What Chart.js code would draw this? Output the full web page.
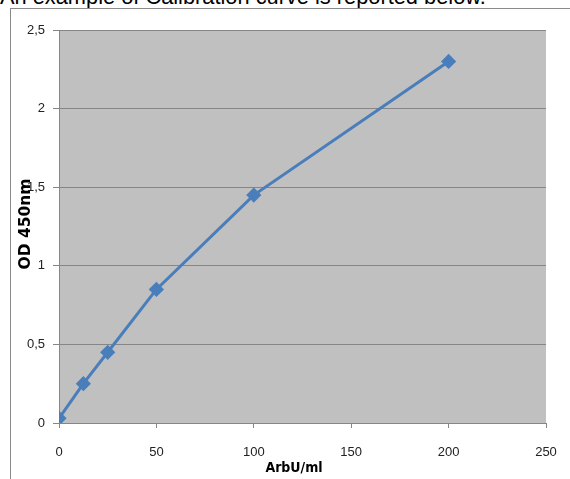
<!DOCTYPE html>
<html>
<head>
<meta charset="utf-8">
<script src="https://cdn.jsdelivr.net/npm/chart.js@4.4.0/dist/chart.umd.min.js"></script>
<style>
  body { margin: 0; overflow: hidden; background: #fff; }
  #heading { position: absolute; left: 0; top: -16px; font: 21.8px "Liberation Sans", Arial, sans-serif; color: #000; white-space: nowrap; }
  #frame { position: absolute; left: 10px; top: 8px; width: 570px; height: 480px; border-left: 1px solid #8a8a8a; border-top: 1px solid #8a8a8a; }
  #wrap { position: absolute; left: 0; top: 0; width: 570px; height: 479px; }
</style>
</head>
<body>
<div id="heading">An example of Calibration curve is reported below.</div>
<div id="frame"></div>
<div id="wrap"><canvas id="myChart" width="570" height="479"></canvas></div>
<script>
// valori
var concentrations = [0, 12.5, 25, 50, 100, 200];
var odValues = [0.03, 0.25, 0.45, 0.85, 1.45, 2.3];
var xTicks = [0, 50, 100, 150, 200, 250];
var yTicks = [0, 0.5, 1, 1.5, 2, 2.5];
var xTitle = "ArbU/ml";
var yTitle = "OD 450nm";

var punti = concentrations.map(function (c, i) { return { x: c, y: odValues[i] }; });

var sfondo = {
    id: "sfondo",
    beforeDraw: function (chart) {
        var a = chart.chartArea, ctx = chart.ctx;
        ctx.save();
        ctx.fillStyle = "#c0c0c0";
        ctx.fillRect(a.left, a.top, a.right - a.left, a.bottom - a.top);
        ctx.restore();
    }
};

var titoliAssi = {
    id: "titoliAssi",
    afterDraw: function (chart) {
        var ctx = chart.ctx;
        ctx.save();
        ctx.fillStyle = "#000";
        ctx.textAlign = "center";
        ctx.textBaseline = "middle";
        ctx.font = "bold 14px 'DejaVu Sans Condensed', sans-serif";
        ctx.fillText(xTitle, 294, 468);
        ctx.translate(26, 224);
        ctx.rotate(-Math.PI / 2);
        ctx.font = "bold 15.5px 'DejaVu Sans', sans-serif";
        ctx.fillText(yTitle, 0, 0);
        ctx.restore();
    }
};

var fontTick = { family: "'Liberation Sans', Arial, sans-serif", size: 13 };

var canvas = document.getElementById("myChart").getContext("2d");
window.grafico = new Chart(canvas, {
    type: "line",
    data: {
        datasets: [{
            label: yTitle,
            data: punti,
            borderColor: "#4a7ebb",
            backgroundColor: "#4a7ebb",
            borderWidth: 3,
            pointStyle: "rectRot",
            pointRadius: 5.5,
            pointHoverRadius: 5.5,
            fill: false,
            tension: 0
        }]
    },
    options: {
        responsive: false,
        animation: false,
        layout: { padding: { left: 0, right: 24, top: 30, bottom: 0 } },
        plugins: {
            legend: { display: false },
            title: { display: false },
            tooltip: { enabled: false }
        },
        scales: {
            x: {
                type: "linear",
                min: 0,
                max: 250,
                afterBuildTicks: function (s) { s.ticks = xTicks.map(function (v) { return { value: v }; }); },
                afterFit: function (s) { s.height = 56; s.paddingLeft = 0; s.paddingRight = 0; },
                ticks: { color: "#222", font: fontTick, padding: 17, maxRotation: 0 },
                grid: { drawOnChartArea: false, drawTicks: true, tickLength: 5, color: "#868686" },
                border: { color: "#868686" }
            },
            y: {
                min: 0,
                max: 2.5,
                afterBuildTicks: function (s) { s.ticks = yTicks.map(function (v) { return { value: v }; }); },
                afterFit: function (s) { s.width = 59; s.paddingTop = 0; s.paddingBottom = 0; },
                ticks: {
                    color: "#222",
                    font: fontTick,
                    padding: 8,
                    callback: function (v) { return String(v).replace(".", ","); }
                },
                grid: { color: "#868686", tickLength: 6 },
                border: { color: "#868686" }
            }
        }
    },
    plugins: [sfondo, titoliAssi]
});
</script>
</body>
</html>
